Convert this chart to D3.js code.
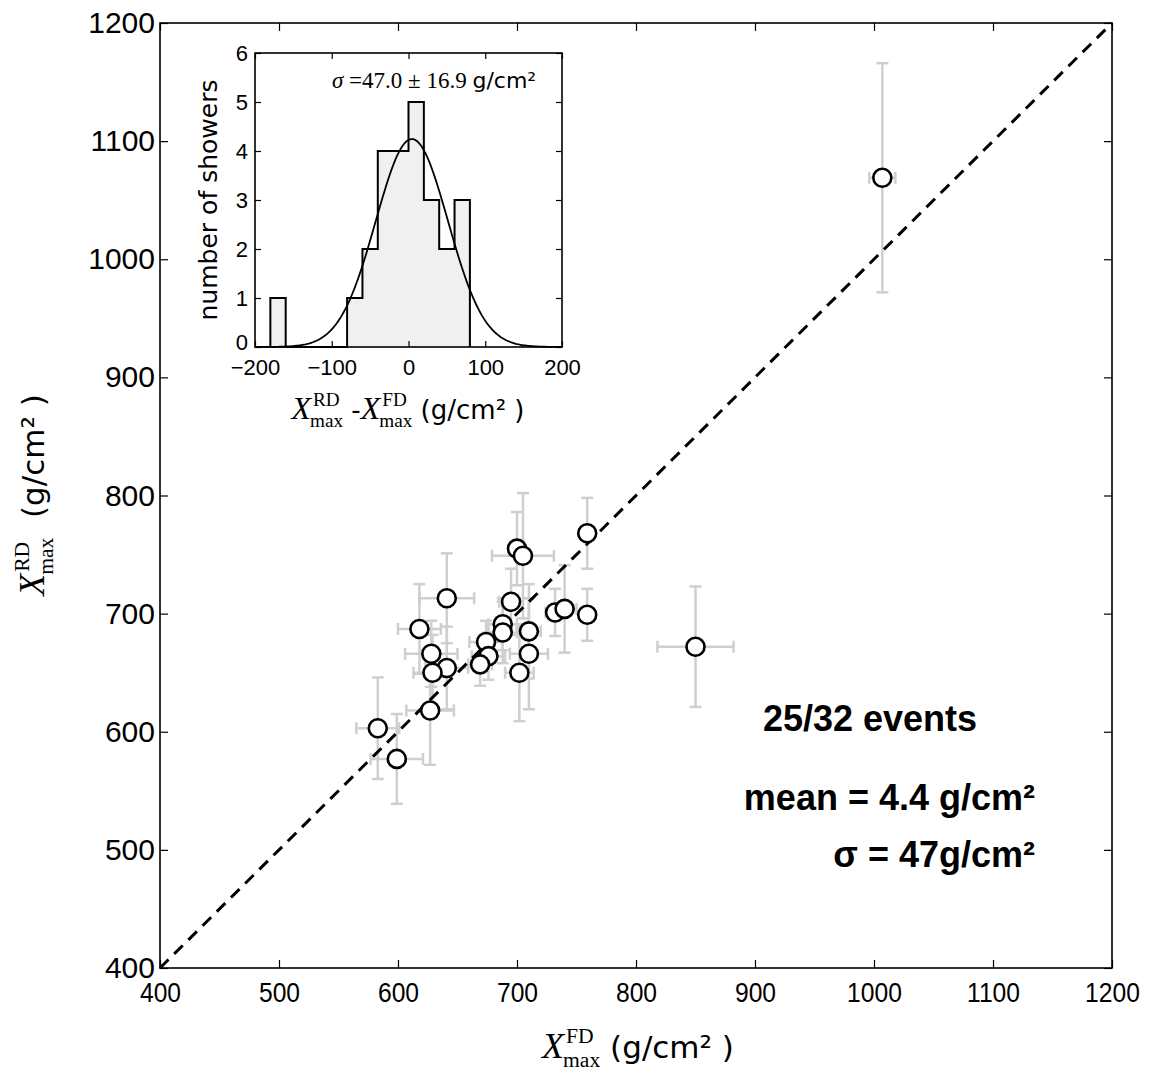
<!DOCTYPE html>
<html>
<head>
<meta charset="utf-8">
<script src="https://cdn.jsdelivr.net/npm/d3@7"></script>
<style>
  body { margin: 0; background: #fff; }
  text { fill: #000; }
</style>
</head>
<body>
<div id="chart"></div>
<script>
// Main scatter: X_max from fluorescence (FD) vs radio (RD), g/cm2
const xmaxFD  = [759, 700, 705, 641, 695, 732, 740, 759, 618, 688, 688, 710, 674, 628, 710, 676, 641, 669, 629, 702, 627, 583, 599, 850, 1007];
const xmaxRD  = [768, 755, 749, 713, 710, 701, 704, 699, 687, 691, 684, 685, 676, 666, 666, 664, 654, 657, 650, 650, 618, 603, 577, 672, 1069];
const errFD   = [4, 6, 26, 23, 10, 8, 10, 6, 18, 12, 12, 10, 14, 22, 16, 14, 18, 10, 16, 12, 20, 18, 22, 32, 11];
const errRD   = [30, 31, 53, 38, 28, 20, 37, 22, 38, 22, 26, 40, 18, 28, 47, 20, 35, 18, 32, 41, 46, 43, 38, 51, 97];
const mainTicks = [400, 500, 600, 700, 800, 900, 1000, 1100, 1200];

// Inset histogram of RD - FD
const binStarts = [-180, -160, -140, -120, -100, -80, -60, -40, -20, 0, 20, 40, 60];
const binCounts = [1, 0, 0, 0, 0, 1, 2, 4, 4, 5, 3, 2, 3];
const binWidth = 20;
const insetXTicks = [-200, -100, 0, 100, 200];
const insetYTicks = [0, 1, 2, 3, 4, 5, 6];
// gaussian fit parameters
const fitMean = 4.4, fitSigma = 47.0, fitN = 25;

const W = 1153, H = 1074;
const svg = d3.select("#chart").append("svg")
    .attr("width", W).attr("height", H)
    .style("font-family", "'DejaVu Sans', sans-serif");

const x = d3.scaleLinear().domain([400, 1200]).range([160, 1112]);
const y = d3.scaleLinear().domain([400, 1200]).range([968, 23]);
const fmt = d3.format("d");

// Axes (ticks inward on all four sides)
const gx = svg.append("g").attr("transform", "translate(0,968)")
    .call(d3.axisBottom(x).tickValues(mainTicks).tickFormat(fmt).tickSize(-8).tickSizeOuter(0).tickPadding(14));
gx.selectAll("text").style("font-size", "28px").attr("transform", "scale(0.88,1)");
const gy = svg.append("g").attr("transform", "translate(160,0)")
    .call(d3.axisLeft(y).tickValues(mainTicks).tickFormat(fmt).tickSize(-8).tickSizeOuter(0).tickPadding(5));
gy.selectAll("text").style("font-size", "30px");
svg.append("g").attr("transform", "translate(0,23)")
    .call(d3.axisTop(x).tickValues(mainTicks).tickSize(-8).tickSizeOuter(0).tickFormat(""));
svg.append("g").attr("transform", "translate(1112,0)")
    .call(d3.axisRight(y).tickValues(mainTicks).tickSize(-8).tickSizeOuter(0).tickFormat(""));
svg.selectAll(".domain").remove();
svg.selectAll(".tick line").attr("stroke", "#000").attr("stroke-width", 1.2);

// error bars
const pts = xmaxFD.map((v, i) => ({ fd: v, rd: xmaxRD[i], efd: errFD[i], erd: errRD[i] }));
const cap = 6;
const eb = svg.append("g").attr("stroke", "#cfcfcf").attr("stroke-width", 2.5).attr("fill", "none");
pts.forEach(d => {
  const g = eb.append("g");
  g.append("line").attr("x1", x(d.fd)).attr("x2", x(d.fd)).attr("y1", y(d.rd - d.erd)).attr("y2", y(d.rd + d.erd));
  g.append("line").attr("x1", x(d.fd) - cap).attr("x2", x(d.fd) + cap).attr("y1", y(d.rd - d.erd)).attr("y2", y(d.rd - d.erd));
  g.append("line").attr("x1", x(d.fd) - cap).attr("x2", x(d.fd) + cap).attr("y1", y(d.rd + d.erd)).attr("y2", y(d.rd + d.erd));
  g.append("line").attr("x1", x(d.fd - d.efd)).attr("x2", x(d.fd + d.efd)).attr("y1", y(d.rd)).attr("y2", y(d.rd));
  g.append("line").attr("x1", x(d.fd - d.efd)).attr("x2", x(d.fd - d.efd)).attr("y1", y(d.rd) - cap).attr("y2", y(d.rd) + cap);
  g.append("line").attr("x1", x(d.fd + d.efd)).attr("x2", x(d.fd + d.efd)).attr("y1", y(d.rd) - cap).attr("y2", y(d.rd) + cap);
});

// 1:1 line
svg.append("line")
    .attr("x1", x(400)).attr("y1", y(400)).attr("x2", x(1200)).attr("y2", y(1200))
    .attr("stroke", "#000").attr("stroke-width", 3).attr("stroke-dasharray", "12,8");

svg.append("g").selectAll("circle").data(pts).enter().append("circle")
    .attr("cx", d => x(d.fd)).attr("cy", d => y(d.rd)).attr("r", 9)
    .attr("fill", "#fff").attr("stroke", "#000").attr("stroke-width", 2.6);

// frame
svg.append("rect").attr("x", 160).attr("y", 23).attr("width", 952).attr("height", 945)
    .attr("fill", "none").attr("stroke", "#000").attr("stroke-width", 1.6);

// annotations
const ann = svg.append("g").style("font-family", "'Liberation Sans', Arial, sans-serif")
    .style("font-weight", "bold").style("font-size", "36px");
ann.append("text").attr("x", 870).attr("y", 731).attr("text-anchor", "middle").text("25/32 events");
ann.append("text").attr("x", 1035).attr("y", 810).attr("text-anchor", "end").text("mean = 4.4 g/cm²");
ann.append("text").attr("x", 1035).attr("y", 867).attr("text-anchor", "end").text("σ = 47g/cm²");

// X_max label helper: italic X with super/sub scripts, then sans text
function xmaxLabel(g, parts, size) {
  let cx = 0;
  parts.forEach(p => {
    if (p.sup) {
      const X = g.append("text").attr("x", cx).attr("y", 0)
          .style("font-family", "'Liberation Serif', serif").style("font-style", "italic")
          .style("font-size", size + "px").text("X");
      const wX = X.node().getComputedTextLength();
      const s1 = g.append("text").attr("x", cx + wX + 2).attr("y", -0.42 * size)
          .style("font-family", "'Liberation Serif', serif").style("font-size", (0.6 * size) + "px").text(p.sup);
      const s2 = g.append("text").attr("x", cx + wX - 1).attr("y", 0.24 * size)
          .style("font-family", "'Liberation Serif', serif").style("font-size", (0.6 * size) + "px").text("max");
      cx += wX + Math.max(s1.node().getComputedTextLength() + 3, s2.node().getComputedTextLength() - 1);
    } else {
      const t = g.append("text").attr("x", cx).attr("y", 0)
          .style("font-size", (p.size || size * 0.9) + "px").attr("xml:space", "preserve").text(p.text);
      cx += t.node().getComputedTextLength();
    }
  });
  g.selectAll("text").attr("transform", `translate(${-cx / 2},0)`);
}

xmaxLabel(svg.append("g").attr("transform", "translate(638,1058)"),
    [{ sup: "FD" }, { text: " (g/cm² )", size: 31 }], 36);
xmaxLabel(svg.append("g").attr("transform", "translate(44,495) rotate(-90)"),
    [{ sup: "RD" }, { text: "  (g/cm² )", size: 31 }], 36);

// ---------------- inset ----------------
const ix = d3.scaleLinear().domain([-200, 200]).range([255, 562]);
const iy = d3.scaleLinear().domain([0, 6]).range([347, 53]);
const inset = svg.append("g");
inset.append("rect").attr("x", 255).attr("y", 53).attr("width", 307).attr("height", 294).attr("fill", "#fff");

// filled bars
inset.append("g").selectAll("rect").data(binStarts.map((b, i) => ({ b, c: binCounts[i] }))).enter()
    .append("rect")
    .attr("x", d => ix(d.b)).attr("width", d => ix(d.b + binWidth) - ix(d.b))
    .attr("y", d => iy(d.c)).attr("height", d => iy(0) - iy(d.c))
    .attr("fill", "#f0f0f0");

// step outline
const stepPts = [[binStarts[0], 0]].concat(binStarts.map((b, i) => [b, binCounts[i]]))
    .concat([[binStarts[binStarts.length - 1] + binWidth, 0]]);
inset.append("path")
    .attr("d", d3.line().x(d => ix(d[0])).y(d => iy(d[1])).curve(d3.curveStepAfter)(stepPts))
    .attr("fill", "none").attr("stroke", "#000").attr("stroke-width", 2);

// gaussian fit curve
const amp = fitN * binWidth / (fitSigma * Math.sqrt(2 * Math.PI));
const gx0 = d3.range(-200, 200.5, 2);
inset.append("path")
    .attr("d", d3.line().x(v => ix(v)).y(v => iy(amp * Math.exp(-0.5 * ((v - fitMean) / fitSigma) ** 2)))(gx0))
    .attr("fill", "none").attr("stroke", "#000").attr("stroke-width", 1.8);

const igx = inset.append("g").attr("transform", "translate(0,347)")
    .call(d3.axisBottom(ix).tickValues(insetXTicks).tickSize(-6).tickSizeOuter(0).tickPadding(12)
      .tickFormat(d => d < 0 ? "\u2212" + Math.abs(d) : fmt(d)));
igx.selectAll("text").style("font-size", "22px");
const igy = inset.append("g").attr("transform", "translate(255,0)")
    .call(d3.axisLeft(iy).tickValues(insetYTicks).tickFormat(fmt).tickSize(-6).tickSizeOuter(0).tickPadding(7));
igy.selectAll("text").style("font-size", "22px");
igy.selectAll(".tick").filter(d => d === 0).select("text").attr("dy", "0.1em");
inset.append("g").attr("transform", "translate(0,53)")
    .call(d3.axisTop(ix).tickValues(insetXTicks).tickSize(-6).tickSizeOuter(0).tickFormat(""));
inset.append("g").attr("transform", "translate(562,0)")
    .call(d3.axisRight(iy).tickValues(insetYTicks).tickSize(-6).tickSizeOuter(0).tickFormat(""));
inset.selectAll(".domain").remove();
inset.selectAll(".tick line").attr("stroke", "#000").attr("stroke-width", 1.2);
inset.append("rect").attr("x", 255).attr("y", 53).attr("width", 307).attr("height", 294)
    .attr("fill", "none").attr("stroke", "#000").attr("stroke-width", 1.6);

inset.append("text").attr("transform", "translate(217,200) rotate(-90)")
    .attr("text-anchor", "middle").style("font-size", "25px").text("number of showers");

const sig = inset.append("text").attr("x", 332).attr("y", 88);
sig.append("tspan").style("font-family", "'Liberation Serif', serif").style("font-style", "italic")
    .style("font-size", "23px").text("σ");
sig.append("tspan").style("font-family", "'Liberation Serif', serif").style("font-size", "23px")
    .text(" =47.0 ± 16.9 ");
sig.append("tspan").style("font-size", "22px").text("g/cm²");

// inset x label: X^RD_max - X^FD_max (g/cm2)
xmaxLabel(inset.append("g").attr("transform", "translate(408,419)"),
    [{ sup: "RD" }, { text: " -", size: 26 }, { sup: "FD" }, { text: " (g/cm² )", size: 26 }], 32);
</script>
</body>
</html>
